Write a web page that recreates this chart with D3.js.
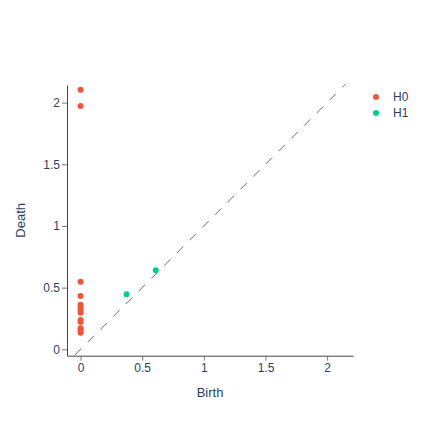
<!DOCTYPE html>
<html>
<head>
<meta charset="utf-8">
<script src="https://cdn.jsdelivr.net/npm/d3@7"></script>
<style>
  body { margin: 0; background: #fff; }
  svg { font-family: "Liberation Sans", Arial, sans-serif; }
  .axis path { stroke: #444; }
  .axis line { stroke: #777; }
  .axis text { fill: #2a3f5f; font-size: 12px; }
</style>
</head>
<body>
<script>
// persistence pairs
var h0Birth = [0, 0, 0, 0, 0, 0, 0, 0, 0, 0, 0, 0, 0];
var h0Death = [2.105, 1.973, 0.548, 0.432, 0.362, 0.338, 0.316, 0.297, 0.238, 0.222, 0.170, 0.154, 0.135];
var h1Birth = [0.373, 0.61];
var h1Death = [0.446, 0.64];
var diagonal = [-0.045, 2.15];
var tickValues = [0, 0.5, 1, 1.5, 2];
var seriesNames = ['H0', 'H1'];
var seriesColors = ['#EF553B', '#00CC96'];

var width = 423,
    height = 423,
    plot = {left: 67, right: 353, top: 85, bottom: 355.7};

var x = d3.scaleLinear().domain([-0.11, 2.21]).range([plot.left, plot.right]),
    y = d3.scaleLinear().domain([-0.052, 2.143]).range([plot.bottom, plot.top]);

var svg = d3.select('body').append('svg')
    .attr('width', width)
    .attr('height', height);

var fmt = function(d) { return String(d); };

// diagonal
svg.append('line')
    .attr('x1', x(diagonal[0])).attr('y1', y(diagonal[0]))
    .attr('x2', x(diagonal[1])).attr('y2', y(diagonal[1]))
    .attr('stroke', '#444')
    .attr('stroke-width', 0.8)
    .attr('stroke-dasharray', '9,9');

svg.append('g')
    .attr('class', 'x axis')
    .attr('transform', 'translate(0,' + plot.bottom + ')')
    .call(d3.axisBottom(x).tickValues(tickValues).tickFormat(fmt).tickSizeInner(5).tickSizeOuter(0).tickPadding(3));

svg.append('g')
    .attr('class', 'y axis')
    .attr('transform', 'translate(' + plot.left + ',0)')
    .call(d3.axisLeft(y).tickValues(tickValues).tickFormat(fmt).tickSizeInner(5).tickSizeOuter(0).tickPadding(2));

// axis titles
svg.append('text')
    .attr('x', (plot.left + plot.right) / 2)
    .attr('y', 397)
    .attr('text-anchor', 'middle')
    .attr('fill', '#2a3f5f')
    .style('font-size', '13px')
    .text('Birth');

svg.append('text')
    .attr('transform', 'translate(25,' + ((plot.top + plot.bottom) / 2) + ') rotate(-90)')
    .attr('text-anchor', 'middle')
    .attr('fill', '#2a3f5f')
    .style('font-size', '13px')
    .text('Death');

var series = [
    {name: seriesNames[0], color: seriesColors[0], pts: d3.zip(h0Birth, h0Death)},
    {name: seriesNames[1], color: seriesColors[1], pts: d3.zip(h1Birth, h1Death)}
];

series.forEach(function(s) {
    svg.append('g')
        .selectAll('circle')
        .data(s.pts)
        .enter()
        .append('circle')
        .attr('cx', function(d) { return x(d[0]); })
        .attr('cy', function(d) { return y(d[1]); })
        .attr('r', 3)
        .attr('fill', s.color);
});

// legend
var legend = svg.append('g')
    .selectAll('g')
    .data(series)
    .enter()
    .append('g')
    .attr('transform', function(d, i) { return 'translate(376,' + (97 + i * 16) + ')'; });

legend.append('circle').attr('r', 3).attr('fill', function(d) { return d.color; });
legend.append('text')
    .attr('x', 17)
    .attr('dy', '0.35em')
    .attr('fill', '#2a3f5f')
    .style('font-size', '12px')
    .text(function(d) { return d.name; });
</script>
</body>
</html>
